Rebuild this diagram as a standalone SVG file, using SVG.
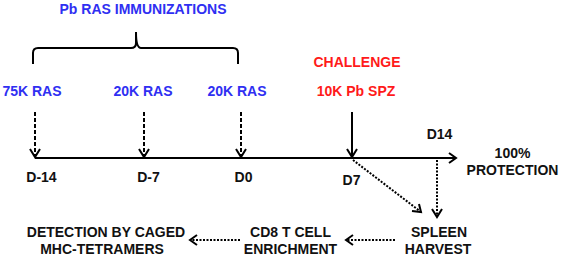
<svg xmlns="http://www.w3.org/2000/svg" width="562" height="258" viewBox="0 0 562 258">
<style>
text{font-family:"Liberation Sans",Arial,sans-serif;font-weight:bold;font-size:14px;text-anchor:middle;fill:#111}
.blue{fill:#2f2ff2}
.red{fill:#ff1a1a}
.ln{fill:none;stroke:#000;stroke-width:2}
.dash{stroke-dasharray:4 2}
.dot{stroke-dasharray:2 1.5}
.head{fill:none;stroke:#000;stroke-width:2}
</style>
<rect width="562" height="258" fill="#fff"/>
<g id="title"><text class="blue" x="143" y="14">Pb RAS IMMUNIZATIONS</text></g>
<g id="brace"><path class="ln" d="M33 64 V53 Q33 48 38 48 H131 Q136 48 136 43 V32 Q136 48 141 48 H233 Q238 48 238 53 V64" stroke-width="1.8"/></g>
<g id="dose1"><text class="blue" x="32" y="96">75K RAS</text></g>
<g id="dose2"><text class="blue" x="143" y="96">20K RAS</text></g>
<g id="dose3"><text class="blue" x="237" y="96">20K RAS</text></g>
<g id="challenge"><text class="red" x="357" y="67">CHALLENGE</text><text class="red" x="356" y="96">10K Pb SPZ</text></g>
<g id="d-14"><text x="41.5" y="182">D-14</text></g>
<g id="d-7"><text x="148.5" y="182">D-7</text></g>
<g id="d0"><text x="243.5" y="182">D0</text></g>
<g id="d7"><text x="351.5" y="185">D7</text></g>
<g id="d14"><text x="439.5" y="139">D14</text></g>
<g id="protection"><text x="512.5" y="158">100%</text><text x="512.5" y="175">PROTECTION</text></g>
<g id="spleen"><text x="439" y="237">SPLEEN</text><text x="438" y="254">HARVEST</text></g>
<g id="cd8"><text x="290.5" y="237">CD8 T CELL</text><text x="290.5" y="254">ENRICHMENT</text></g>
<g id="detection"><text x="106" y="237">DETECTION BY CAGED</text><text x="102" y="254">MHC-TETRAMERS</text></g>
<g id="connectors">
<path class="ln" d="M35 158 H456"/>
<path class="head" d="M449 153 L456 158 L449 163"/>
<path class="ln dash" d="M35 112 V156"/>
<path class="head" d="M30 149 L35 157 L40 149"/>
<path class="ln dash" d="M144 112 V156"/>
<path class="head" d="M139 149 L144 157 L149 149"/>
<path class="ln dash" d="M241 112 V156"/>
<path class="head" d="M236 149 L241 157 L246 149"/>
<path class="ln" d="M352 112 V156"/>
<path class="head" d="M347 149 L352 157 L357 149"/>
<path class="ln dot" d="M353 160 L421 212"/>
<path class="head" d="M412 211 L421 212 L419 204"/>
<path class="ln dot" d="M437 160 V216"/>
<path class="head" d="M432 209 L437 217 L442 209"/>
<path class="ln dot" d="M395 240 H347"/>
<path class="head" d="M353 235 L346 240 L353 245"/>
<path class="ln dot" d="M240 240 H191"/>
<path class="head" d="M197 235 L190 240 L197 245"/>
</g>
</svg>
